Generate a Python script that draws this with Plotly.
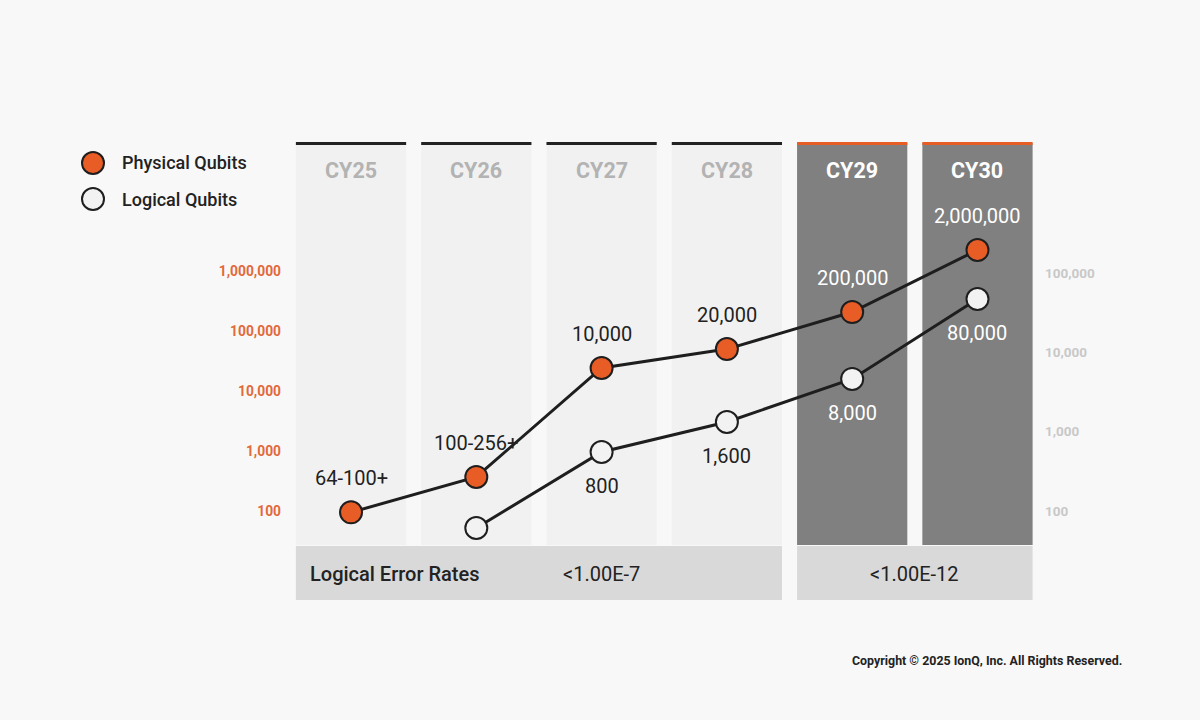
import numpy as np
import plotly.graph_objects as go

# data (values = where the dots sit on their log axis)
years = ['CY25', 'CY26', 'CY27', 'CY28', 'CY29', 'CY30']
physical = [95, 370, 24200, 50000, 207000, 2240000]
physical_labels = ['64-100+', '100-256+', '10,000', '20,000', '200,000', '2,000,000']
logical = [None, 61, 555, 1325, 4630, 47100]
logical_labels = ['', '', '800', '1,600', '8,000', '80,000']

left_ticks = [100, 1000, 10000, 100000, 1000000]
right_ticks = [100, 1000, 10000, 100000]
error_rates = ['<1.00E-7', '<1.00E-12']

W, H = 1200, 720
L, R = 288, 1040   # plot area in pixels

ORANGE = '#e85d26'
TICK_ORANGE = '#e2693b'
DARK = '#1e1e1e'
BG = '#f8f8f8'


def px(x):
    return (x - L) / (R - L)


def py(y):
    return 1 - y / H


def note(**kw):
    # always anchor explicitly, plotly's 'auto' anchoring moves text near the edges
    d = dict(showarrow=False, xanchor='center', yanchor='middle')
    d.update(kw)
    return d


fig = go.Figure()

fig.add_trace(go.Scatter(
    x=years, y=physical, mode='lines+markers', yaxis='y',
    line=dict(color=DARK, width=3),
    marker=dict(size=22, color=ORANGE, line=dict(color=DARK, width=2)),
    showlegend=False, cliponaxis=False, hoverinfo='skip'))

fig.add_trace(go.Scatter(
    x=years, y=logical, mode='lines+markers', yaxis='y2',
    line=dict(color=DARK, width=3),
    marker=dict(size=22, color='#f2f2f2', line=dict(color=DARK, width=2)),
    showlegend=False, cliponaxis=False, hoverinfo='skip'))

shapes = []
annotations = []

# column panels
for i, yr in enumerate(years):
    dark = i >= 4
    shapes.append(dict(type='rect', xref='x', yref='paper', layer='below',
                       x0=i - 0.44, x1=i + 0.44, y0=py(545), y1=py(143),
                       fillcolor='#808080' if dark else '#f1f1f1', line=dict(width=0)))
    shapes.append(dict(type='line', xref='x', yref='paper', layer='below',
                       x0=i - 0.44, x1=i + 0.44, y0=py(143.5), y1=py(143.5),
                       line=dict(color=ORANGE if dark else '#222222', width=3)))
    annotations.append(note(x=yr, y=py(170), xref='x', yref='paper', text='<b>%s</b>' % yr,
                            font=dict(size=21.5, color='white' if dark else '#b3b3b3')))

# error-rate band
shapes.append(dict(type='rect', xref='x', yref='paper', layer='below',
                   x0=-0.44, x1=3.44, y0=py(600), y1=py(546),
                   fillcolor='#d9d9d9', line=dict(width=0)))
shapes.append(dict(type='rect', xref='x', yref='paper', layer='below',
                   x0=3.56, x1=5.44, y0=py(600), y1=py(546),
                   fillcolor='#d9d9d9', line=dict(width=0)))
annotations.append(note(x=px(308), y=py(574), xref='paper', yref='paper', xanchor='left',
                        text='Logical Error Rates',
                        font=dict(size=20, color='#222222', weight=500)))
annotations.append(note(x=2, y=py(574), xref='x', yref='paper', text=error_rates[0],
                        font=dict(size=20, color='#222222')))
annotations.append(note(x=4.5, y=py(574), xref='x', yref='paper', text=error_rates[1],
                        font=dict(size=20, color='#222222')))

# point labels
for i, yr in enumerate(years):
    col = 'white' if i >= 4 else '#222222'
    annotations.append(note(x=yr, y=np.log10(physical[i]), xref='x', yref='y',
                            text=physical_labels[i], yshift=34,
                            font=dict(size=20, color=col)))
    if logical_labels[i]:
        annotations.append(note(x=yr, y=np.log10(logical[i]), xref='x', yref='y2',
                                text=logical_labels[i], yshift=-34,
                                font=dict(size=20, color=col)))

# legend
for cy, fill, name in [(163, ORANGE, 'Physical Qubits'), (199, '#f2f2f2', 'Logical Qubits')]:
    shapes.append(dict(type='circle', xref='paper', yref='paper',
                       x0=px(82), x1=px(104), y0=py(cy + 11), y1=py(cy - 11),
                       fillcolor=fill, line=dict(color=DARK, width=2)))
    annotations.append(note(x=px(120), y=py(cy), xref='paper', yref='paper', xanchor='left',
                            text=name, font=dict(size=18, color='#222222', weight=500)))

annotations.append(note(x=px(1124), y=py(660), xref='paper', yref='paper', xanchor='right',
                        text='<b>Copyright © 2025 IonQ, Inc. All Rights Reserved.</b>',
                        font=dict(size=12.4, color='#222222')))

fig.update_layout(
    width=W, height=H,
    margin=dict(l=L, r=W - R, t=0, b=0),
    paper_bgcolor=BG, plot_bgcolor=BG,
    font=dict(family='Roboto, Arial, sans-serif'),
    shapes=shapes, annotations=annotations,
    xaxis=dict(type='category', range=[-0.503, 5.499], showgrid=False, zeroline=False,
               showticklabels=False, showline=False),
    yaxis=dict(type='log', range=[-1.483, 10.517], showgrid=False, zeroline=False,
               tickvals=left_ticks, ticktext=['<b>{:,}</b>'.format(v) for v in left_ticks],
               tickfont=dict(size=13.8, color=TICK_ORANGE), ticklabelstandoff=6),
    yaxis2=dict(type='log', range=[-0.636, 8.444], overlaying='y', side='right',
                showgrid=False, zeroline=False,
                tickvals=right_ticks, ticktext=['<b>{:,}</b>'.format(v) for v in right_ticks],
                tickfont=dict(size=13.5, color='#c8c8c8'), ticklabelstandoff=4),
)

# drop the browser's default body margin so the figure sits at 0,0
fig.write_html('out.html', config={'displayModeBar': False},
               post_script="document.body.style.margin='0';document.body.style.background='%s';" % BG)
